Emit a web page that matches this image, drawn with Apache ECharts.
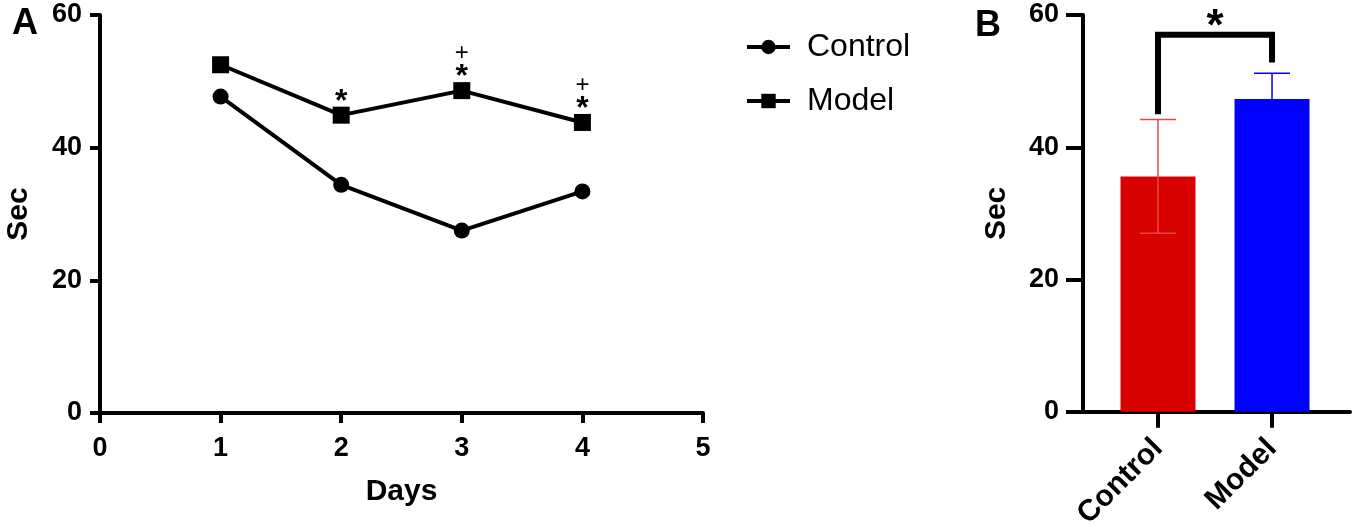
<!DOCTYPE html>
<html>
<head>
<meta charset="utf-8">
<script src="https://cdn.jsdelivr.net/npm/echarts@6/dist/echarts.min.js"></script>
<style>
html,body{margin:0;padding:0;background:#fff;}
#chart{width:1355px;height:532px;}
</style>
</head>
<body>
<div id="chart"></div>
<script>
// ---- Data ----
var days = [1, 2, 3, 4];
var controlLine = [47.7, 34.4, 27.5, 33.4];
var modelLine = [52.5, 44.9, 48.6, 43.8];
var starDays = [2, 3, 4];      // '*' marks above Model
var plusDays = [3, 4];         // '+' marks above Model
var groups = ['Control', 'Model'];
var barMeans = [35.6, 47.3];
var barErr = [8.6, 3.9];
var barColors = ['#d90000', '#0000ff'];
var errColors = ['#e5494d', '#0000ff'];
var bracket = [0, 1, 57.0, 45.0, 52.8]; // x0, x1, top, left bottom, right bottom

var FONT = 'Liberation Sans, Arial, sans-serif';
var chart = echarts.init(document.getElementById('chart'));

function modelVal(d){ return modelLine[days.indexOf(d)]; }

var annotData = starDays.map(function(d){
  return [d, modelVal(d), plusDays.indexOf(d) >= 0 ? 1 : 0];
});

var axisLineStyle = {color:'#000', width:4};
var tickLabel = {color:'#000', fontSize:27, fontWeight:'bold', fontFamily:FONT};
var nameStyle = {fontSize:30, fontWeight:'bold', fontFamily:FONT, color:'#000'};

var option = {
  animation:false,
  backgroundColor:'#fff',
  title:[
    {text:'A', left:7, top:1, textStyle:{fontSize:36, fontWeight:'bold', fontFamily:FONT, color:'#000'}},
    {text:'B', left:970, top:3, textStyle:{fontSize:36, fontWeight:'bold', fontFamily:FONT, color:'#000'}}
  ],
  legend:{
    orient:'vertical', left:740, top:26, itemWidth:43, itemHeight:18, itemGap:22,
    data:['Control','Model'],
    lineStyle:{width:4},
    textStyle:{fontSize:32, fontFamily:FONT, color:'#000', padding:[0,0,0,12]}
  },
  grid:[
    {left:100, width:603, top:15, height:398},
    {left:1083, width:267, top:15, height:398}
  ],
  xAxis:[
    {gridIndex:0, type:'value', min:0, max:5, interval:1,
     name:'Days', nameLocation:'middle', nameGap:64, nameTextStyle:nameStyle,
     axisLine:{onZero:false, lineStyle:axisLineStyle}, axisTick:{length:10, lineStyle:axisLineStyle},
     axisLabel:Object.assign({margin:22}, tickLabel),
     splitLine:{show:false}},
    {gridIndex:1, type:'value', min:-0.658, max:1.684,
     axisLine:{onZero:false, lineStyle:axisLineStyle},
     axisTick:{length:16, lineStyle:axisLineStyle, customValues:[0,1]},
     axisLabel:Object.assign({margin:32, rotate:45, customValues:[0,1],
       formatter:function(v){ return groups[Math.round(v)]; }}, tickLabel, {fontSize:30}),
     splitLine:{show:false}}
  ],
  yAxis:[
    {gridIndex:0, type:'value', min:0, max:60, interval:20,
     name:'Sec', nameLocation:'middle', nameGap:66, nameRotate:90, nameTextStyle:nameStyle,
     axisLine:{show:true, onZero:false, lineStyle:axisLineStyle}, axisTick:{show:true, length:10, lineStyle:axisLineStyle},
     axisLabel:Object.assign({margin:18}, tickLabel), splitLine:{show:false}},
    {gridIndex:1, type:'value', min:0, max:60, interval:20,
     name:'Sec', nameLocation:'middle', nameGap:71, nameRotate:90, nameTextStyle:nameStyle,
     axisLine:{show:true, onZero:false, lineStyle:axisLineStyle}, axisTick:{show:true, length:17, lineStyle:axisLineStyle},
     axisLabel:Object.assign({margin:24}, tickLabel), splitLine:{show:false}}
  ],
  series:[
    {name:'Control', type:'line', xAxisIndex:0, yAxisIndex:0,
     data:days.map(function(d,i){return [d, controlLine[i]];}),
     symbol:'circle', symbolSize:16,
     lineStyle:{color:'#000', width:4}, itemStyle:{color:'#000'}},
    {name:'Model', type:'line', xAxisIndex:0, yAxisIndex:0,
     data:days.map(function(d,i){return [d, modelLine[i]];}),
     symbol:'rect', symbolSize:17,
     lineStyle:{color:'#000', width:4}, itemStyle:{color:'#000'}},
    {type:'custom', xAxisIndex:0, yAxisIndex:0, data:annotData, silent:true,
     renderItem:function(params, api){
       var p = api.coord([api.value(0), api.value(1)]);
       var children = [{type:'text', x:p[0], y:p[1]-13,
         style:{text:'*', fontSize:32, fontWeight:'bold', fontFamily:FONT, fill:'#000', align:'center', verticalAlign:'middle'}}];
       if (api.value(2)) {
         children.push({type:'text', x:p[0], y:p[1]-37,
           style:{text:'+', fontSize:24, fontFamily:FONT, fill:'#000', align:'center', verticalAlign:'middle'}});
       }
       return {type:'group', children:children};
     }},
    {type:'bar', xAxisIndex:1, yAxisIndex:1, barWidth:75,
     data:barMeans.map(function(m,i){return {value:[i, m], itemStyle:{color:barColors[i]}};})},
    {type:'custom', xAxisIndex:1, yAxisIndex:1, silent:true, z:5,
     data:barMeans.map(function(m,i){return [i, m, barErr[i]];}),
     renderItem:function(params, api){
       var x = api.value(0), m = api.value(1), e = api.value(2);
       var hi = api.coord([x, m+e]), lo = api.coord([x, m-e]);
       var c = errColors[params.dataIndex];
       var st = {stroke:c, lineWidth:1.5};
       return {type:'group', children:[
         {type:'line', shape:{x1:hi[0], y1:hi[1], x2:lo[0], y2:lo[1]}, style:st},
         {type:'line', shape:{x1:hi[0]-18, y1:hi[1], x2:hi[0]+18, y2:hi[1]}, style:st},
         {type:'line', shape:{x1:lo[0]-18, y1:lo[1], x2:lo[0]+18, y2:lo[1]}, style:st}
       ]};
     }},
    {type:'custom', xAxisIndex:1, yAxisIndex:1, silent:true, z:6,
     data:[bracket],
     renderItem:function(params, api){
       var a = api.coord([api.value(0), api.value(3)]);
       var b = api.coord([api.value(0), api.value(2)]);
       var c = api.coord([api.value(1), api.value(2)]);
       var d = api.coord([api.value(1), api.value(4)]);
       return {type:'group', children:[
         {type:'polyline', shape:{points:[a,b,c,d]}, style:{stroke:'#000', lineWidth:6, fill:null, lineJoin:'miter'}},
         {type:'text', x:(b[0]+c[0])/2, y:b[1]-7,
          style:{text:'*', fontSize:44, fontWeight:'bold', fontFamily:FONT, fill:'#000', align:'center', verticalAlign:'middle'}}
       ]};
     }}
  ]
};
chart.setOption(option);
</script>
</body>
</html>
